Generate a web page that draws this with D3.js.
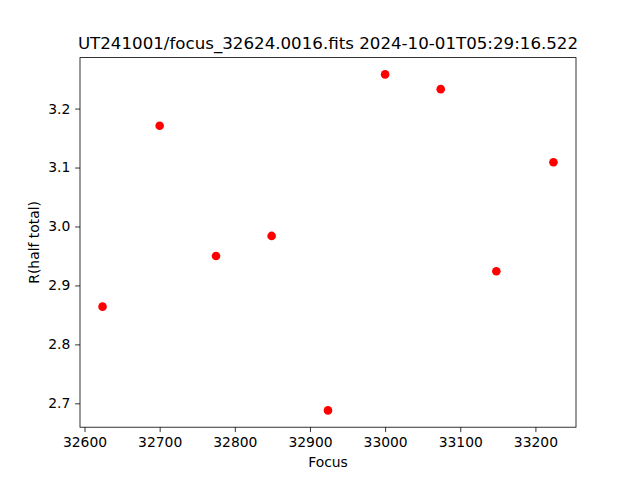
<!DOCTYPE html>
<html><head><meta charset="utf-8">
<script src="https://cdn.jsdelivr.net/npm/d3@7"></script>
<style>body{margin:0;background:#fff}svg{display:block;font-family:"DejaVu Sans",sans-serif}</style>
</head><body>
<script>
const focus = [32624, 32700, 32775, 32849, 32924, 33000, 33074, 33148, 33224];
const rHalf = [2.864, 3.171, 2.950, 2.984, 2.688, 3.258, 3.233, 2.924, 3.109];
const xTicks = [32600, 32700, 32800, 32900, 33000, 33100, 33200];
const yTicks = [2.7, 2.8, 2.9, 3.0, 3.1, 3.2];
const title = "UT241001/focus_32624.0016.fits 2024-10-01T05:29:16.522";

const W = 640, H = 480;
const L = 80, R = 576, T = 57.6, B = 427.2;
const svg = d3.select("body").append("svg").attr("width", W).attr("height", H);

const xe = d3.extent(focus), ye = d3.extent(rHalf);
const xm = (xe[1]-xe[0])*0.05, ym = (ye[1]-ye[0])*0.05;
const x = d3.scaleLinear().domain([xe[0]-xm, xe[1]+xm]).range([L, R]);
const y = d3.scaleLinear().domain([ye[0]-ym, ye[1]+ym]).range([B, T]);

const xa = svg.append("g").attr("transform", `translate(0,${B})`)
  .call(d3.axisBottom(x).tickValues(xTicks).tickFormat(d3.format("d")).tickSize(4.86).tickPadding(4.86));
const ya = svg.append("g").attr("transform", `translate(${L},0)`)
  .call(d3.axisLeft(y).tickValues(yTicks).tickFormat(d3.format(".1f")).tickSize(4.86).tickPadding(4.86));
[xa, ya].forEach(a => {
  a.select(".domain").remove();
  a.selectAll("text").attr("font-size", 13.89).attr("fill", "#000").attr("font-family", "DejaVu Sans");
  a.selectAll("line").attr("stroke", "#000").attr("stroke-width", 0.8);
});

svg.append("rect").attr("x", L).attr("y", T).attr("width", R-L).attr("height", B-T)
  .attr("fill", "none").attr("stroke", "#000").attr("stroke-width", 0.8);

svg.append("g").selectAll("circle").data(focus).join("circle")
  .attr("cx", d => x(d)).attr("cy", (d, i) => y(rHalf[i])).attr("r", 4.3).attr("fill", "#ff0000");

svg.append("text").attr("x", (L+R)/2).attr("y", T-8.3).attr("text-anchor", "middle")
  .attr("font-size", 16.67).text(title);
svg.append("text").attr("x", (L+R)/2).attr("y", 467).attr("text-anchor", "middle")
  .attr("font-size", 13.89).text("Focus");
svg.append("text").attr("transform", `translate(39,${(T+B)/2}) rotate(-90)`).attr("text-anchor", "middle")
  .attr("font-size", 13.89).text("R(half total)");
</script>
</body></html>
